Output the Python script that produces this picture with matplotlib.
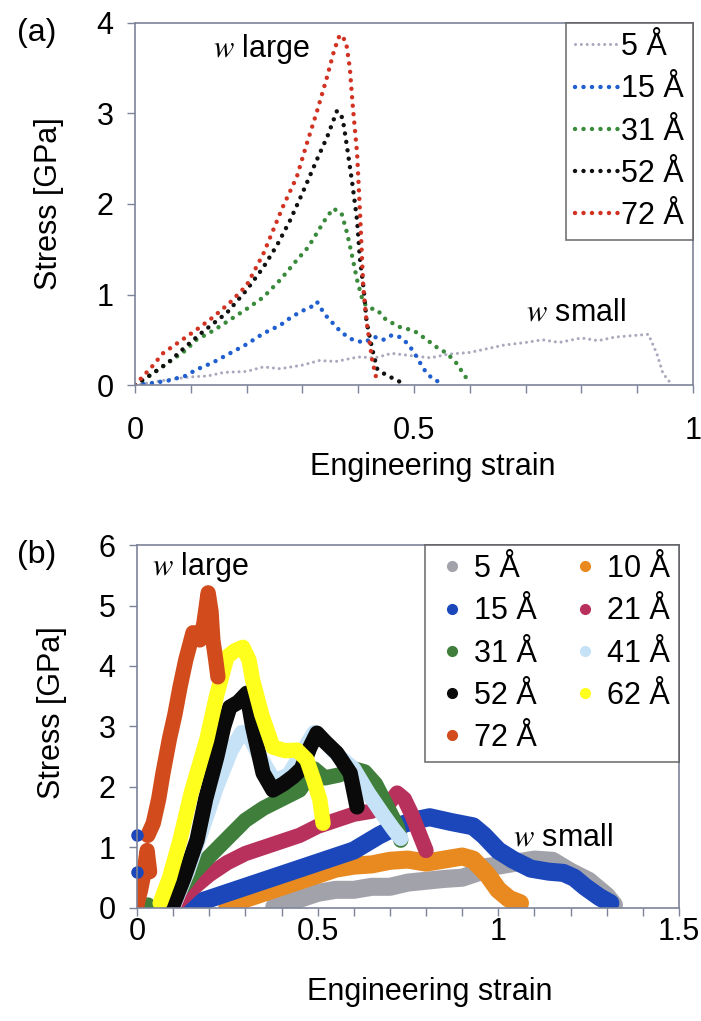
import numpy as np
import matplotlib
matplotlib.use("Agg")
import matplotlib.pyplot as plt
from matplotlib.lines import Line2D

plt.rcParams['font.family'] = ['Liberation Sans', 'DejaVu Sans']
plt.rcParams['mathtext.fontset'] = 'stix'

nan = np.nan

# ---- panel (a): stress-strain, dotted curves ----
a_labels = ["5 Å", "15 Å", "31 Å", "52 Å", "72 Å"]
a_colors = ["#a9a9bd", "#1f5fd0", "#3a8a3c", "#111111", "#d23222"]

a_strain_5 = [0, 0.03, 0.06, 0.1, 0.13, 0.16, 0.2, 0.23, 0.26, 0.3, 0.33, 0.36, 0.4, 0.43, 0.46,
              0.5, 0.53, 0.56, 0.6, 0.63, 0.66, 0.7, 0.73, 0.76, 0.8, 0.83, 0.86, 0.9, 0.92,
              0.935, 0.946, 0.96]
a_stress_5 = [0, 0.03, 0.06, 0.09, 0.1, 0.14, 0.15, 0.2, 0.18, 0.22, 0.27, 0.26, 0.31, 0.3, 0.35,
              0.32, 0.3, 0.34, 0.36, 0.4, 0.44, 0.47, 0.5, 0.47, 0.52, 0.49, 0.53, 0.55, 0.56,
              0.35, 0.13, 0.02]

a_strain_15 = [0, 0.03, 0.06, 0.09, 0.11, 0.14, 0.17, 0.2, 0.23, 0.26, 0.28, 0.3, 0.315, 0.326,
               0.34, 0.355, 0.37, 0.39, 0.41, 0.43, 0.445, 0.46, 0.475, 0.49, 0.505, 0.515,
               0.523, 0.535, 0.547]
a_stress_15 = [0, 0.02, 0.05, 0.1, 0.17, 0.25, 0.35, 0.45, 0.57, 0.66, 0.75, 0.82, 0.86, 0.92,
               0.78, 0.68, 0.58, 0.5, 0.47, 0.53, 0.5, 0.55, 0.53, 0.45, 0.31, 0.2, 0.13, 0.06,
               0.03]

a_strain_31 = [0, 0.03, 0.06, 0.09, 0.11, 0.14, 0.17, 0.2, 0.23, 0.26, 0.29, 0.31, 0.326, 0.34,
               0.355, 0.37, 0.38, 0.39, 0.398, 0.409, 0.42, 0.434, 0.45, 0.475, 0.5, 0.523,
               0.54, 0.559, 0.575, 0.588, 0.6]
a_stress_31 = [0, 0.12, 0.25, 0.38, 0.5, 0.6, 0.72, 0.84, 0.97, 1.16, 1.38, 1.52, 1.68, 1.82,
               1.95, 1.9, 1.68, 1.4, 1.16, 0.91, 0.85, 0.83, 0.72, 0.64, 0.6, 0.5, 0.42, 0.35,
               0.25, 0.13, 0.02]

a_strain_52 = [0, 0.03, 0.06, 0.09, 0.12, 0.165, 0.2, 0.23, 0.255, 0.278, 0.3, 0.326, 0.345,
               0.362, 0.372, 0.38, 0.39, 0.398, 0.403, 0.41, 0.415, 0.425, 0.434, 0.445, 0.457,
               0.47, 0.48]
a_stress_52 = [0, 0.12, 0.25, 0.42, 0.58, 0.8, 1.05, 1.3, 1.55, 1.82, 2.12, 2.49, 2.75, 3.03,
               2.95, 2.63, 2.2, 1.82, 1.4, 1.05, 0.7, 0.4, 0.18, 0.13, 0.09, 0.05, 0.02]

a_strain_72 = [0, 0.03, 0.05, 0.08, 0.11, 0.14, 0.17, 0.2, 0.23, 0.265, 0.29, 0.308, 0.325,
               0.344, 0.357, 0.367, 0.378, 0.385, 0.39, 0.398, 0.404, 0.409, 0.415, 0.425, 0.434]
a_stress_72 = [0, 0.2, 0.35, 0.48, 0.61, 0.75, 0.91, 1.1, 1.45, 1.97, 2.3, 2.67, 3.0, 3.4, 3.7,
               3.87, 3.8, 3.5, 3.1, 2.56, 1.8, 1.08, 0.7, 0.28, 0.03]

# ---- panel (b): stress-strain, thick marker curves ----
b_labels = ["5 Å", "10 Å", "15 Å", "21 Å", "31 Å", "41 Å", "52 Å", "62 Å", "72 Å"]
b_colors = ["#a2a2aa", "#e88a20", "#1b47bb", "#b8315c", "#3f7e3b", "#c6e2f6", "#0a0a0a",
            "#ffff1e", "#d24b1c"]

b_strain_5 = [0.38, 0.45, 0.5, 0.55, 0.6, 0.65, 0.7, 0.75, 0.8, 0.85, 0.9, 0.95, 0.97, 1.0, 1.05,
              1.1, 1.15, 1.2, 1.25, 1.3, 1.32]
b_stress_5 = [0.02, 0.15, 0.25, 0.3, 0.3, 0.35, 0.35, 0.42, 0.45, 0.48, 0.5, 0.6, 0.68, 0.7, 0.75,
              0.8, 0.78, 0.6, 0.45, 0.2, 0.05]

b_strain_10 = [0.25, 0.3, 0.35, 0.4, 0.45, 0.5, 0.55, 0.6, 0.65, 0.7, 0.75, 0.8, 0.85, 0.9, 0.93,
               0.97, 1.0, 1.03, 1.06]
b_stress_10 = [0.02, 0.15, 0.25, 0.35, 0.45, 0.55, 0.65, 0.7, 0.72, 0.78, 0.8, 0.75, 0.8, 0.85,
               0.8, 0.55, 0.3, 0.15, 0.08]

b_strain_15 = [0.12, 0.2, 0.3, 0.4, 0.45, 0.5, 0.55, 0.6, 0.67, 0.72, 0.77, 0.81, 0.87, 0.93,
               0.96, 1.0, 1.04, 1.09, 1.14, 1.18, 1.21, 1.24, 1.28, 1.31]
b_stress_15 = [0.0, 0.15, 0.35, 0.55, 0.65, 0.75, 0.85, 0.95, 1.2, 1.35, 1.45, 1.5, 1.42, 1.35,
               1.2, 0.95, 0.8, 0.65, 0.6, 0.58, 0.5, 0.35, 0.18, 0.08]
b_strain_15_stray = [0.0, 0.0]
b_stress_15_stray = [1.2, 0.6]

b_strain_21 = [0.1, 0.15, 0.2, 0.25, 0.3, 0.35, 0.4, 0.45, 0.5, 0.55, 0.6, 0.65, 0.7, 0.72,
               0.74, 0.76, 0.78, 0.8]
b_stress_21 = [0.02, 0.3, 0.55, 0.75, 0.9, 1.0, 1.1, 1.2, 1.35, 1.45, 1.55, 1.6, 1.75, 1.9,
               1.8, 1.55, 1.25, 0.95]

b_strain_31 = [0.0, 0.03, nan, 0.08, 0.12, 0.16, 0.2, 0.25, 0.3, 0.35, 0.4, 0.45, 0.49, 0.52,
               0.56, 0.6, 0.63, 0.66, 0.69, 0.72, 0.73]
b_stress_31 = [0.0, 0.05, nan, 0.02, 0.3, 0.6, 0.85, 1.15, 1.45, 1.65, 1.8, 1.95, 2.3, 2.15,
               2.2, 2.3, 2.25, 2.05, 1.7, 1.35, 1.12]

b_strain_41 = [0.1, 0.14, 0.18, 0.22, 0.26, 0.29, 0.31, 0.34, 0.38, 0.42, 0.46, 0.49, 0.52,
               0.56, 0.6, 0.64, 0.68, 0.71, 0.73]
b_stress_41 = [0.02, 0.6, 1.3, 2.0, 2.6, 2.9, 2.85, 2.5, 2.1, 2.2, 2.6, 2.9, 2.75, 2.5, 2.3,
               1.9, 1.55, 1.3, 1.15]

b_strain_52 = [0.1, 0.13, 0.166, 0.19, 0.221, 0.24, 0.257, 0.28, 0.304, 0.32, 0.335, 0.349,
               0.376, 0.405, 0.432, 0.455, 0.479, 0.498, 0.52, 0.553, 0.59, 0.609]
b_stress_52 = [0.05, 0.5, 1.12, 1.8, 2.5, 3.0, 3.32, 3.4, 3.55, 3.0, 2.6, 2.23, 1.95, 2.05, 2.17,
               2.3, 2.66, 2.89, 2.75, 2.56, 2.23, 1.67]

b_strain_62 = [0.064, 0.09, 0.119, 0.15, 0.193, 0.22, 0.249, 0.27, 0.293, 0.31, 0.32, 0.345,
               0.376, 0.41, 0.443, 0.47, 0.49, 0.506, 0.515]
b_stress_62 = [0.08, 0.5, 1.12, 1.9, 2.78, 3.5, 4.15, 4.25, 4.31, 4.1, 3.77, 3.2, 2.66, 2.6,
               2.61, 2.45, 2.1, 1.79, 1.4]

b_strain_72 = [0.0, 0.01, 0.02, 0.028, 0.035, nan, 0.03, 0.045, 0.06, 0.072, 0.09, 0.105, 0.119,
               0.135, 0.155, 0.174, 0.185, 0.197, 0.205, 0.21, 0.218, 0.224]
b_stress_72 = [0.05, 0.3, 0.6, 0.95, 0.6, nan, 1.2, 1.4, 1.8, 2.23, 2.8, 3.2, 3.65, 4.1, 4.55,
               4.43, 4.7, 5.21, 4.9, 4.43, 4.1, 3.82]

spine_col = "#7d849a"
fs = 22

fig = plt.figure(figsize=(7.01, 10.21), dpi=100)


def style_axes(ax, xpad):
    for s in ax.spines.values():
        s.set_color(spine_col)
        s.set_linewidth(1.2)
    ax.tick_params(which='both', direction='out', length=5.5, width=1, colors=spine_col,
                   labelcolor='black', labelsize=fs)
    ax.tick_params(axis='x', which='both', pad=xpad, top=False)
    ax.tick_params(axis='y', pad=10, right=False)


# panel (a)
ax1 = fig.add_axes([0.1926, 0.6229, 0.796, 0.3546])
a_x = [a_strain_5, a_strain_15, a_strain_31, a_strain_52, a_strain_72]
a_y = [a_stress_5, a_stress_15, a_stress_31, a_stress_52, a_stress_72]
for xs, ys, c, lab in zip(a_x, a_y, a_colors, a_labels):
    lw = 2.2 if lab == "5 Å" else 3.2
    ax1.plot(xs, ys, color=c, lw=lw, linestyle=(0, (0.01, 1.9)), dash_capstyle='round',
             label=lab)
ax1.set_xlim(0, 1)
ax1.set_ylim(0, 4)
ax1.set_xticks([0, 0.5, 1])
ax1.set_xticklabels(["0", "0.5", "1"])
ax1.set_xticks(np.arange(0, 1.01, 0.1), minor=True)
ax1.set_yticks([0, 1, 2, 3, 4])
style_axes(ax1, 17)
ax1.set_xlabel("Engineering strain", fontsize=fs)
ax1.xaxis.set_label_coords(0.534, -0.185)
ax1.set_ylabel("Stress [GPa]", fontsize=fs)
ax1.yaxis.set_label_coords(-0.127, 0.5)
leg1 = ax1.legend(loc='upper right', fontsize=fs, frameon=True, fancybox=False,
                  borderaxespad=0, handlelength=1.4, handletextpad=0.1,
                  labelspacing=0.4, borderpad=0.3)
leg1.get_frame().set_edgecolor("#505050")
leg1.get_frame().set_linewidth(1.2)
ax1.text(0.227, 3.71, "$w$ large", fontsize=fs, ha='center', va='center')
ax1.text(0.79, 0.8, "$w$ small", fontsize=fs, ha='center', va='center')

# panel (b)
ax2 = fig.add_axes([0.1954, 0.1107, 0.7732, 0.3555])
b_x = [b_strain_5, b_strain_10, b_strain_15, b_strain_21, b_strain_31, b_strain_41,
       b_strain_52, b_strain_62, b_strain_72]
b_y = [b_stress_5, b_stress_10, b_stress_15, b_stress_21, b_stress_31, b_stress_41,
       b_stress_52, b_stress_62, b_stress_72]
handles = []
for xs, ys, c, lab in zip(b_x, b_y, b_colors, b_labels):
    lw = 13 if lab in ("5 Å", "10 Å", "15 Å") else 11
    ax2.plot(xs, ys, color=c, lw=lw, solid_capstyle='round', solid_joinstyle='round')
    handles.append(Line2D([], [], color=c, marker='o', ls='none', markersize=7, label=lab))
ax2.plot(b_strain_15_stray, b_stress_15_stray, 'o', color=b_colors[2], markersize=8,
         clip_on=False)
ax2.set_xlim(0, 1.5)
ax2.set_ylim(0, 6)
ax2.set_xticks([0, 0.5, 1, 1.5])
ax2.set_xticklabels(["0", "0.5", "1", "1.5"])
ax2.set_xticks(np.arange(0, 1.51, 0.1), minor=True)
ax2.set_yticks([0, 1, 2, 3, 4, 5, 6])
style_axes(ax2, 1)
ax2.set_xlabel("Engineering strain", fontsize=fs)
ax2.xaxis.set_label_coords(0.54, -0.19)
ax2.set_ylabel("Stress [GPa]", fontsize=fs)
ax2.yaxis.set_label_coords(-0.129, 0.537)
# row-wise order for a 2-column legend
order = [0, 2, 4, 6, 8, 1, 3, 5, 7]
leg2 = ax2.legend([handles[i] for i in order], [b_labels[i] for i in order],
                  loc='upper right', ncol=2, fontsize=fs, frameon=True, fancybox=False,
                  borderaxespad=0, handlelength=1.2, handletextpad=0.1,
                  labelspacing=0.4, columnspacing=1.0, borderpad=0.3)
leg2.get_frame().set_edgecolor("#505050")
leg2.get_frame().set_linewidth(1.2)
ax2.text(0.177, 5.64, "$w$ large", fontsize=fs, ha='center', va='center')
ax2.text(1.18, 1.17, "$w$ small", fontsize=fs, ha='center', va='center')

fig.text(37 / 701, 1 - 33 / 1021, "(a)", fontsize=23, ha='center', va='center')
fig.text(37 / 701, 1 - 555 / 1021, "(b)", fontsize=23, ha='center', va='center')

fig.savefig("out.png", dpi=100)
